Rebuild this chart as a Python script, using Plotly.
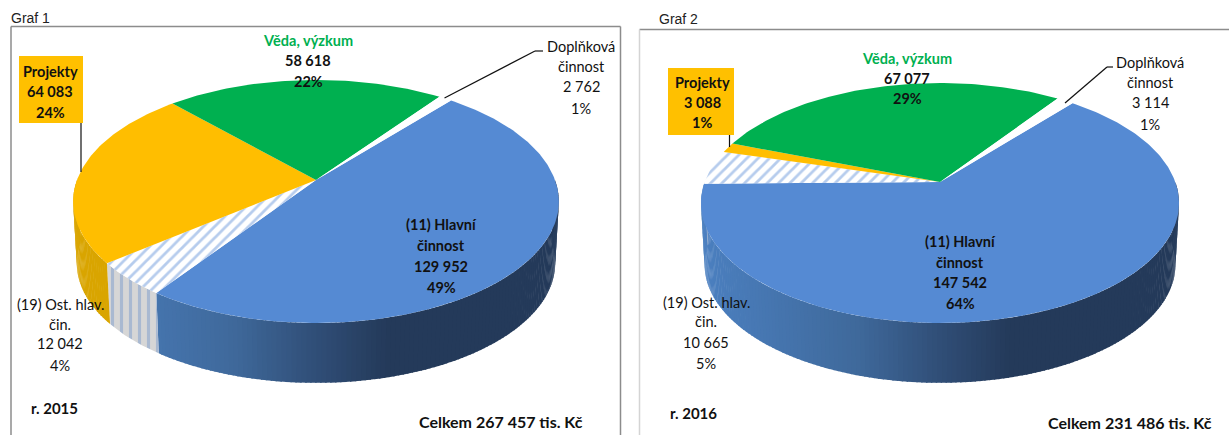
import math
import plotly.graph_objects as go

# ---- data ----
categories = ["(11) Hlavní činnost", "(19) Ost. hlav. čin.", "Projekty", "Věda, výzkum", "Doplňková činnost"]
values_2015 = [129952, 12042, 64083, 58618, 2762]
values_2016 = [147542, 10665, 3088, 67077, 3114]
percent_2015 = ["49%", "4%", "24%", "22%", "1%"]
percent_2016 = ["64%", "5%", "1%", "29%", "1%"]
value_text_2015 = ["129 952", "12 042", "64 083", "58 618", "2 762"]
value_text_2016 = ["147 542", "10 665", "3 088", "67 077", "3 114"]

BLUE, GOLD, GREEN = "#558AD3", "#FFBE00", "#00B050"
GOLD_WALL = "#D9A500"
LABEL_FONT = "Lato"
WALL_STOPS = [(-1.0, (0x4B, 0x7F, 0xBF)), (-0.35, (0x3F, 0x69, 0x9B)), (0.0, (0x30, 0x4E, 0x77)),
              (0.3, (0x24, 0x3A, 0x5A)), (1.0, (0x24, 0x3A, 0x5A))]


def wall_colour(t):
    for (t0, c0), (t1, c1) in zip(WALL_STOPS, WALL_STOPS[1:]):
        if t <= t1:
            f = max(0.0, (t - t0) / (t1 - t0))
            return "rgb(%d,%d,%d)" % tuple(round(a + (b - a) * f) for a, b in zip(c0, c1))
    return "rgb(36,58,90)"


class Pie3D:
    """Perspective projection of a tilted disc onto the page."""

    def __init__(self, cx, cy, a, b, k, depth, shrink):
        self.cx, self.cy, self.a, self.b, self.k = cx, cy, a, b, k
        self.depth, self.shrink = depth, shrink

    def top(self, deg):
        u, v = math.sin(math.radians(deg)), math.cos(math.radians(deg))
        w = 1 + self.k * v
        return self.cx + self.a * u / w, self.cy - self.b * v / w

    def bottom(self, deg):
        u, v = math.sin(math.radians(deg)), math.cos(math.radians(deg))
        w = 1 + self.k * v
        s = self.shrink
        return self.cx + s * self.a * u / w, self.cy + self.depth - s * self.b * v / w


def degs(a0, a1):
    n = max(2, int(abs(a1 - a0) / 1.0) + 1)
    return [a0 + (a1 - a0) * i / n for i in range(n + 1)]


fig = go.Figure()


def add_poly(pts, **kw):
    fig.add_trace(go.Scatter(x=[p[0] for p in pts], y=[p[1] for p in pts], fill="toself", mode="lines",
                             hoverinfo="skip", showlegend=False, **kw))


def draw_pie(values, start, pie):
    total = sum(values)
    spans, a = [], start
    for val in values:
        spans.append((a, a + val / total * 360))
        a = spans[-1][1]

    # walls (front half of the disc only)
    for i, (a0, a1) in enumerate(spans):
        for off in (0, 360):
            lo, hi = max(a0 + off, 90), min(a1 + off, 270)
            if lo >= hi:
                continue
            d = degs(lo, hi)
            if i == 1:
                # the hatched wall sits in the front, where top arc + bottom arc form a simple outline
                poly = [pie.top(x) for x in d] + [pie.bottom(x) for x in reversed(d)]
                add_poly(poly, fillcolor="#D6D6D6", line=dict(width=0, color="#D6D6D6"),
                         fillpattern=dict(shape="|", fgcolor="#7C9CCB", bgcolor="#D6D6D6", size=9, solidity=0.35))
                continue
            for p, q in zip(d, d[1:]):
                e = min(q + 0.3, hi)
                poly = [pie.top(p), pie.top(e), pie.bottom(e), pie.bottom(p)]
                col = GOLD_WALL if i == 2 else wall_colour((pie.top((p + q) / 2)[0] - pie.cx) / pie.a)
                add_poly(poly, fillcolor=col, line=dict(width=0, color=col))

    # top faces
    for i, (a0, a1) in enumerate(spans):
        poly = [(pie.cx, pie.cy)] + [pie.top(x) for x in degs(a0, a1)]
        if i == 1:
            add_poly(poly, fillcolor="white", line=dict(width=0, color="white"),
                     fillpattern=dict(shape="/", fgcolor="#6E9ADB", bgcolor="white", size=8, solidity=0.35))
        else:
            col = [BLUE, None, GOLD, GREEN, "white"][i]
            add_poly(poly, fillcolor=col, line=dict(width=0, color=col))


# angle at which the first slice (Hlavní) starts, clockwise from the far point of the disc
draw_pie(values_2015, 39.9, Pie3D(316, 180, 239, 117.7, 0.177, 62, 0.985))
draw_pie(values_2016, 39.7, Pie3D(940, 182, 235.3, 116.3, 0.175, 62, 0.985))


def label(x, y, lines, bold=False, color="#111111", size=14.5, family=LABEL_FONT):
    for yy, line in zip(y, lines):
        txt = "<b>%s</b>" % line if bold else line
        fig.add_annotation(x=x, y=yy, text=txt, showarrow=False, xanchor="center", yanchor="middle",
                           font=dict(family=family, size=size, color=color))


def shape_line(pts, color="#111111", width=1.2):
    for (x0, y0), (x1, y1) in zip(pts, pts[1:]):
        fig.add_shape(type="line", x0=x0, y0=y0, x1=x1, y1=y1, line=dict(color=color, width=width))


# frames
FRAME = "#8C8C8C"
shape_line([(11, 435), (11, 26.5), (620.5, 26.5), (620.5, 435)], FRAME, 1.5)
shape_line([(639.5, 29.5), (1229, 29.5)], FRAME, 1.5)
shape_line([(639.5, 29.5), (639.5, 435)], "#D4D4D4", 1.5)

# orange boxes
fig.add_shape(type="rect", x0=19, y0=56, x1=83, y1=123, fillcolor="#FFC000", line=dict(width=0))
fig.add_shape(type="rect", x0=668, y0=68, x1=734, y1=135, fillcolor="#FFC000", line=dict(width=0))

# leader lines
shape_line([(81, 123), (81, 172)])
shape_line([(729.5, 135), (729.5, 147)])
shape_line([(444.5, 98), (535, 51), (543, 51)])
shape_line([(1065, 103), (1107, 67), (1113, 67)])

# captions
fig.add_annotation(x=9, y=18, text="Graf 1", showarrow=False, xanchor="left", yanchor="middle",
                   font=dict(family="Liberation Sans", size=14, color="#222222"))
fig.add_annotation(x=657, y=19, text="Graf 2", showarrow=False, xanchor="left", yanchor="middle",
                   font=dict(family="Liberation Sans", size=14, color="#222222"))

# 2015 labels
label(308, [40], ["Věda, výzkum"], True, GREEN)
label(308, [60, 81], [value_text_2015[3], percent_2015[3]], True)
label(50, [71, 91, 112], ["Projekty", value_text_2015[2], percent_2015[2]], True)
label(581, [46, 66, 86, 108], ["Doplňková", "činnost", value_text_2015[4], percent_2015[4]])
label(60, [304, 324, 343, 365], ["(19) Ost. hlav.", "čin.", value_text_2015[1], percent_2015[1]])
label(441, [224, 245, 266, 287], ["(11) Hlavní", "činnost", value_text_2015[0], percent_2015[0]], True)
label(54, [408], ["r. 2015"], True, size=15)
label(501, [421], ["Celkem 267 457 tis. Kč"], True, size=16)

# 2016 labels
label(907, [58], ["Věda, výzkum"], True, GREEN)
label(907, [78, 98], [value_text_2016[3], percent_2016[3]], True)
label(702, [82, 102, 122], ["Projekty", value_text_2016[2], percent_2016[2]], True)
label(1150, [62, 82, 102, 124], ["Doplňková", "činnost", value_text_2016[4], percent_2016[4]])
label(706, [302, 321, 342, 363], ["(19) Ost. hlav.", "čin.", value_text_2016[1], percent_2016[1]])
label(960, [241, 262, 282, 303], ["(11) Hlavní", "činnost", value_text_2016[0], percent_2016[0]], True)
label(693, [413], ["r. 2016"], True, size=15)
label(1130, [422], ["Celkem 231 486 tis. Kč"], True, size=16)

fig.update_layout(
    width=1229, height=435, autosize=False, margin=dict(l=0, r=0, t=0, b=0),
    paper_bgcolor="white", plot_bgcolor="white", showlegend=False,
    xaxis=dict(range=[0, 1229], visible=False, fixedrange=True),
    yaxis=dict(range=[435, 0], visible=False, fixedrange=True),
)
fig.write_html("out.html", config={"displayModeBar": False},
               post_script="document.body.style.margin='0';document.body.style.overflow='hidden';")
